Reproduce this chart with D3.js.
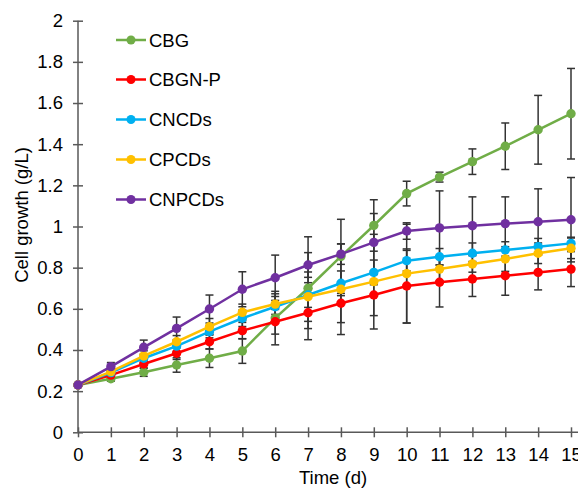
<!DOCTYPE html>
<html><head><meta charset="utf-8">
<script src="https://cdn.jsdelivr.net/npm/d3@7/dist/d3.min.js"></script>
<style>body{margin:0;background:#fff}svg{display:block}text{font-family:"Liberation Sans",Arial,sans-serif;fill:#000}</style>
</head><body><svg id="c" width="578" height="490"></svg>
<script>
const days = [0,1,2,3,4,5,6,7,8,9,10,11,12,13,14,15];
const seriesNames = ["CBG","CBGN-P","CNCDs","CPCDs","CNPCDs"];
const seriesColors = ["#70AD47","#FF0000","#00B0F0","#FFC000","#7030A0"];
const CBG    = [0.23,0.26,0.292,0.327,0.36,0.395,0.555,0.70,0.855,1.005,1.16,1.24,1.315,1.39,1.47,1.548];
const CBG_err= [0.01,0.012,0.02,0.035,0.045,0.06,0.13,0.25,0.18,0.125,0.06,0.024,0.062,0.113,0.167,0.22];
const CBGNP    = [0.23,0.278,0.332,0.384,0.44,0.494,0.537,0.581,0.627,0.667,0.711,0.729,0.745,0.761,0.777,0.793];
const CBGNP_err= [0.01,0.015,0.02,0.03,0.035,0.04,0.06,0.077,0.094,0.10,0.18,0.12,0.085,0.095,0.085,0.085];
const CNCDs    = [0.23,0.29,0.36,0.419,0.489,0.554,0.61,0.667,0.724,0.777,0.834,0.853,0.870,0.886,0.902,0.918];
const CNCDs_err= [0.01,0.015,0.02,0.025,0.03,0.04,0.05,0.06,0.06,0.06,0.05,0.04,0.05,0.04,0.04,0.03];
const CPCDs    = [0.23,0.295,0.371,0.44,0.513,0.583,0.623,0.659,0.695,0.732,0.771,0.793,0.818,0.842,0.870,0.894];
const CPCDs_err= [0.01,0.015,0.025,0.03,0.04,0.04,0.05,0.12,0.22,0.23,0.24,0.06,0.04,0.06,0.05,0.05];
const CNPCDs    = [0.23,0.319,0.413,0.505,0.599,0.695,0.751,0.813,0.866,0.923,0.978,0.993,1.004,1.014,1.023,1.033];
const CNPCDs_err= [0.01,0.02,0.035,0.055,0.068,0.085,0.11,0.06,0.05,0.14,0.04,0.18,0.14,0.13,0.16,0.205];
const yTicks = [0,0.2,0.4,0.6,0.8,1,1.2,1.4,1.6,1.8,2];
const xTicks = days;

const values = [CBG,CBGNP,CNCDs,CPCDs,CNPCDs];
const errs = [CBG_err,CBGNP_err,CNCDs_err,CPCDs_err,CNPCDs_err];

const FS = 18.5;
const svg = d3.select("#c");
const x = d3.scaleLinear().domain([0,15]).range([78,571]);
const y = d3.scaleLinear().domain([0,2]).range([432.3,20.7]);
const axisColor = "#595959";

// y axis
const yAxis = svg.append("g").attr("transform","translate(78,0)")
  .call(d3.axisLeft(y).tickValues(yTicks).tickSize(5).tickSizeOuter(0).tickFormat(d=>d3.format("")(d)));
yAxis.select(".domain").remove();
yAxis.selectAll(".tick line").attr("stroke",axisColor).attr("stroke-width",1.5).attr("x1",5).attr("x2",-5);
yAxis.selectAll(".tick text").attr("x",-15).attr("font-size",FS).attr("font-family","Liberation Sans, Arial, sans-serif").attr("fill","#000");
svg.append("line").attr("x1",78).attr("x2",78).attr("y1",y(2)).attr("y2",y(0)).attr("stroke",axisColor).attr("stroke-width",1.5);

// x axis
const xAxis = svg.append("g").attr("transform",`translate(0,${y(0)})`)
  .call(d3.axisBottom(x).tickValues(xTicks).tickSize(5).tickSizeOuter(0));
xAxis.select(".domain").remove();
xAxis.selectAll(".tick line").attr("stroke",axisColor).attr("stroke-width",1.5).attr("y1",-5).attr("y2",5);
xAxis.selectAll(".tick text").attr("y",16).attr("font-size",FS).attr("font-family","Liberation Sans, Arial, sans-serif").attr("fill","#000");
svg.append("line").attr("x1",78).attr("x2",578).attr("y1",y(0)).attr("y2",y(0)).attr("stroke",axisColor).attr("stroke-width",1.5);

// axis titles
svg.append("text").attr("x",333).attr("y",484).attr("text-anchor","middle").attr("font-size",FS).text("Time (d)");
svg.append("text").attr("transform","translate(28,215) rotate(-90)").attr("text-anchor","middle").attr("font-size",FS).text("Cell growth (g/L)");

// error bars (drawn under lines)
const eb = svg.append("g");
values.forEach((vals,si)=>{
  vals.forEach((v,i)=>{
    const e = errs[si][i];
    if (i===0) return;
    const cx = x(days[i]);
    eb.append("line").attr("x1",cx).attr("x2",cx).attr("y1",y(v+e)).attr("y2",y(v-e)).attr("stroke","#333").attr("stroke-width",1.5);
    [v+e,v-e].forEach(t=>{
      eb.append("line").attr("x1",cx-4).attr("x2",cx+4).attr("y1",y(t)).attr("y2",y(t)).attr("stroke","#333").attr("stroke-width",1.5);
    });
  });
});

// lines and markers
const line = d3.line().x((d,i)=>x(days[i])).y(d=>y(d));
values.forEach((vals,si)=>{
  svg.append("path").attr("d",line(vals)).attr("fill","none").attr("stroke",seriesColors[si]).attr("stroke-width",2.5);
  svg.append("g").selectAll("circle").data(vals).join("circle")
    .attr("cx",(d,i)=>x(days[i])).attr("cy",d=>y(d)).attr("r",4.7).attr("fill",seriesColors[si]);
});

// legend
const legY = [40,79.5,119.5,159.5,199.5];
seriesNames.forEach((n,i)=>{
  const g = svg.append("g").attr("transform",`translate(0,${legY[i]})`);
  g.append("line").attr("x1",116).attr("x2",146).attr("y1",0).attr("y2",0).attr("stroke",seriesColors[i]).attr("stroke-width",2.5);
  g.append("circle").attr("cx",131).attr("cy",0).attr("r",4.5).attr("fill",seriesColors[i]);
  g.append("text").attr("x",149).attr("y",6.5).attr("font-size",FS).text(n);
});
</script></body></html>
